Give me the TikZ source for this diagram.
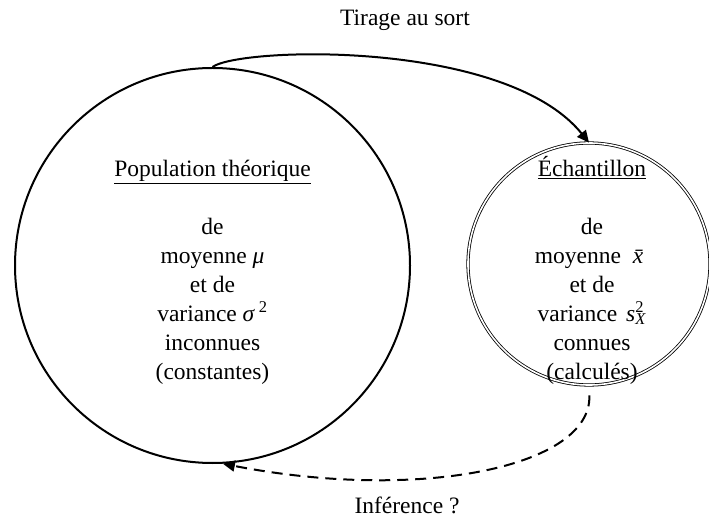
\documentclass[tikz,border=0pt]{standalone}
\usepackage{fontspec}
\setmainfont{Liberation Serif}
\usetikzlibrary{arrows.meta}
\tikzset{
  popcircle/.style={draw, circle, line width=2pt, minimum size=395pt,
                    inner sep=0pt},
  echcircle/.style={draw, circle, double, double distance=1.6pt,
                    line width=0.8pt, minimum size=242pt, inner sep=0pt},
  body/.style={align=center, inner sep=0pt},
  flow/.style={-{Triangle[length=12pt,width=11pt]}, line width=2pt},
  backflow/.style={flow, dash pattern=on 11pt off 7pt},
  lbl/.style={inner sep=0pt},
}
\newcommand{\itx}[1]{\textit{#1}}

\begin{document}
\begin{tikzpicture}[x=1pt, y=1pt, font=\fontsize{23.5}{29}\selectfont]
\useasboundingbox (0,0) rectangle (709,517);

\node[popcircle] (pop) at (212.5,251.5) {};
\node[echcircle] (ech) at (589,253) {};

\node[body] (poptext) at ([yshift=-7pt]pop.center)
  {\underline{Population théorique}\\[29pt]
   de\\ moyenne \itx{μ}\\ et de\\ variance \itx{σ}\,\textsuperscript{2}\\
   inconnues\\ (constantes)};
\node[body] (echtext) at ([xshift=3pt,yshift=-6pt]ech.center)
  {\underline{Échantillon}\\[29pt]
   de\\ moyenne\hspace{12pt}\itx{x̄}\\ et de\\
   variance\hspace{9pt}\itx{s}\rlap{\textsuperscript{2}}\textsubscript{\itx{X}}\\
   connues\\ (calculés)};

\node[lbl] (tirage) at (405,497) {Tirage au sort};
\node[lbl] (inference) at (407,12) {Inférence ?};

\draw[flow] (pop.north) .. controls (240,470) and (505,478) .. (ech.north);
\draw[backflow, shorten <=10pt] (ech.south) .. controls (592,50) and (420,15)
  .. (pop.-87);

\end{tikzpicture}
\end{document}
